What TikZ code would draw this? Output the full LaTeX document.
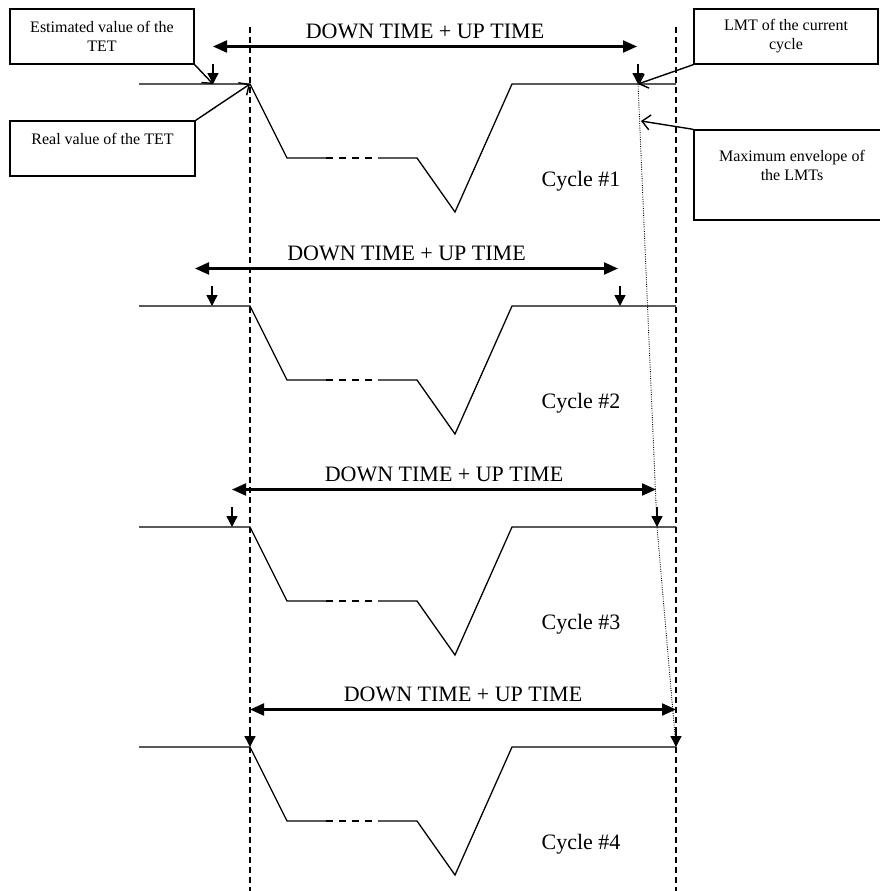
\documentclass[tikz,border=0pt]{standalone}
\usepackage{fontspec}
\setmainfont{Liberation Serif}
\usetikzlibrary{arrows.meta}
\begin{document}
\begin{tikzpicture}[x=1pt,y=-1pt,
  wave/.style={line width=1.3pt, line join=miter},
  gapline/.style={line width=1.3pt, dash pattern=on 7pt off 6pt},
  guide/.style={line width=1.3pt, dash pattern=on 6pt off 4pt},
  envline/.style={line width=0.9pt, dash pattern=on 0.9pt off 1.4pt},
  tick/.style={line width=1.4pt, -{Triangle[length=11pt,width=11pt]}},
  span/.style={line width=2.1pt, {Triangle[length=14pt,width=12pt]}-{Triangle[length=14pt,width=12pt]}},
  callout/.style={line width=1.4pt, -{Straight Barb[length=8pt,width=15pt]}},
  box/.style={draw, line width=1.3pt, inner sep=0pt, align=center, font=\fontsize{16}{19}\selectfont},
  lbl/.style={inner sep=0pt, font=\fontsize{22}{26}\selectfont}]
\useasboundingbox (0,0) rectangle (879,891);

% vertical guide lines
\coordinate (gl1) at (250,27);
\coordinate (gl2) at (250,891);
\coordinate (gr1) at (676,27);
\coordinate (gr2) at (676,891);
\draw[guide] (gl1) -- (gl2);
\draw[guide] (gr1) -- (gr2);

\foreach \i/\y/\ea/\la/\al/\ar in {1/84/213/638/213/637, 2/306/212/620/195/618, 3/527/232/657/232/656, 4/747/250/676/250/676} {
  \coordinate (s\i) at (139,\y);
  \coordinate (d\i) at (250,\y);
  \coordinate (p\i) at (287,{\y+74});
  \coordinate (q\i) at (326,{\y+74});
  \coordinate (r\i) at (378,{\y+74});
  \coordinate (t\i) at (417,{\y+74});
  \coordinate (v\i) at (455,{\y+128});
  \coordinate (u\i) at (512,\y);
  \coordinate (e\i) at (676,\y);
  \draw[wave] (s\i) -- (d\i) -- (p\i) -- (q\i);
  \draw[gapline] (q\i) -- (r\i);
  \draw[wave] (r\i) -- (t\i) -- (v\i) -- (u\i) -- (e\i);
  % estimated TET and LMT markers
  \coordinate (et\i) at (\ea,{\y-20});
  \coordinate (eb\i) at (\ea,\y);
  \coordinate (lt\i) at (\la,{\y-20});
  \coordinate (lb\i) at (\la,\y);
  \draw[tick] (et\i) -- (eb\i);
  \draw[tick] (lt\i) -- (lb\i);
  % down time + up time
  \coordinate (al\i) at (\al,{\y-37.5});
  \coordinate (ar\i) at (\ar,{\y-37.5});
  \draw[span] (al\i) -- (ar\i);
  \node[lbl, anchor=base] (dt\i) at ({(\al+\ar)/2},{\y-46}) {DOWN TIME + UP TIME};
  \node[lbl, anchor=base] (cy\i) at (581,{\y+102}) {Cycle \#\i};
}

% maximum envelope of the LMTs
\draw[envline] (lb1) -- (lb3) -- (lb4);

% annotation boxes
\node[box, minimum width=184pt, minimum height=55pt] (estbox) at (102,36.5) {Estimated value of the\\TET};
\node[box, minimum width=185pt, minimum height=55pt] (realbox) at (102.5,148.5) {Real value of the TET\\\phantom{T}};
\node[box, minimum width=184pt, minimum height=55pt] (lmtbox) at (786,36.5) {LMT of the current\\cycle};
\node[box, minimum width=196pt, minimum height=90pt] (maxbox) at (792,175) {Maximum envelope of\\the LMTs\\\phantom{T}};

\coordinate (env) at (641,121);
\draw[callout] (estbox.south east) -- (eb1);
\draw[callout] (realbox.north east) -- (d1);
\draw[callout] (lmtbox.south west) -- (lb1);
\draw[callout] (maxbox.north west) -- (env);
\end{tikzpicture}
\end{document}
